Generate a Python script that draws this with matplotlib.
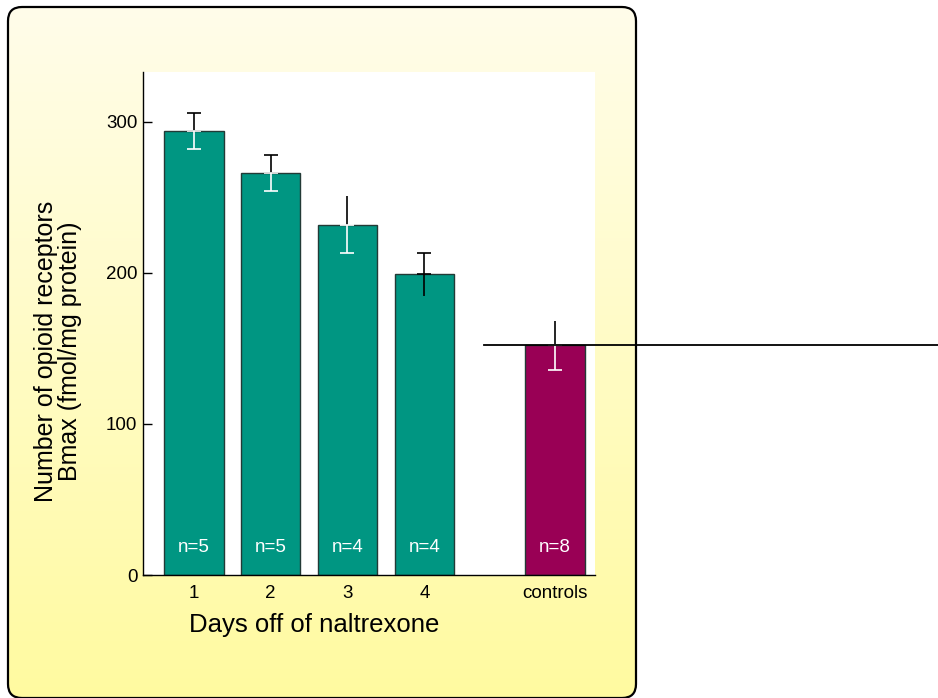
import numpy as np
import matplotlib
matplotlib.use("Agg")
import matplotlib.pyplot as plt
from matplotlib.patches import FancyBboxPatch
from matplotlib.lines import Line2D
from matplotlib.transforms import blended_transform_factory

plt.rcParams['font.family'] = ['Liberation Sans', 'DejaVu Sans']

# receptor density per group (mean and SEM, fmol/mg protein)
groups = ['1', '2', '3', '4', 'controls']
positions = [0, 1, 2, 3, 4.7]
bmax = [294, 266, 232, 199, 152]
sem = [12, 12, 19, 14, 16]
n_labels = ['n=5', 'n=5', 'n=4', 'n=4', 'n=8']
bar_colors = ['#009682', '#009682', '#009682', '#009682', '#990055']
# which error-bar ends carry a cap, and the colour of the part inside the bar
top_caps = [True, True, False, True, False]
low_caps = [True, True, True, False, True]
low_colors = ['white', 'white', 'white', 'black', 'white']

W, H = 938, 698
fig = plt.figure(figsize=(W / 100, H / 100), dpi=100)
fig.patch.set_facecolor('white')

# rounded yellow panel behind the chart
bg = fig.add_axes([0, 0, 1, 1], zorder=0)
bg.set_xlim(0, W)
bg.set_ylim(H, 0)
bg.axis('off')
panel = FancyBboxPatch((8, 7), 628, 691, boxstyle='round,pad=0,rounding_size=14',
                       facecolor='none', edgecolor='black', linewidth=1.6, zorder=3)
top = np.array([255, 253, 234]) / 255
bottom = np.array([255, 250, 160]) / 255
t = np.linspace(0, 1, 256)[:, None, None]
grad = top * (1 - t) + bottom * t
grad = np.repeat(grad, 4, axis=1)
im = bg.imshow(grad, extent=(8, 636, 698, 7), aspect='auto', zorder=1)
bg.add_patch(panel)
im.set_clip_path(panel)

ax = fig.add_axes([143 / W, 1 - 575 / H, 452 / W, 503 / H], zorder=2)
ax.set_facecolor('white')
ax.set_xlim(-0.66, 5.22)
ax.set_ylim(0, 333)

ax.bar(positions, bmax, width=0.775, color=bar_colors, edgecolor='#233a36',
       linewidth=1.0, zorder=2)

for x, m, e, tc, lc, lcol in zip(positions, bmax, sem, top_caps, low_caps, low_colors):
    ax.errorbar(x, m, yerr=[[0], [e]], fmt='none', ecolor='black',
                elinewidth=1.2, capsize=4.7 if tc else 0, capthick=1.2, zorder=3)
    ax.errorbar(x, m, yerr=[[e], [0]], fmt='none', ecolor=lcol,
                elinewidth=1.2, capsize=4.7 if lc else 0, capthick=1.2, zorder=3)

for x, lab in zip(positions, n_labels):
    ax.annotate(lab, xy=(x, 0), xytext=(0, 19.5), textcoords='offset points',
                ha='center', va='center', color='white', fontsize=13.5, zorder=4)

for side in ['top', 'right']:
    ax.spines[side].set_visible(False)
for side in ['left', 'bottom']:
    ax.spines[side].set_linewidth(1.0)

ax.set_yticks([0, 100, 200, 300])
ax.tick_params(axis='y', direction='in', length=6.5, width=1.0, pad=4, labelsize=13.5)
ax.set_xticks(positions)
ax.set_xticklabels(groups)
ax.tick_params(axis='x', length=0, pad=7, labelsize=13.5)

ax.set_xlabel('Days off of naltrexone', fontsize=18.5)
ax.xaxis.set_label_coords(0.379, -0.075)
ax.set_ylabel('Number of opioid receptors\nBmax (fmol/mg protein)', fontsize=18,
              va='center', linespacing=1.05)
ax.yaxis.set_label_coords(-0.188, 0.445)

# pointer line at the control level running off to the right
tr = blended_transform_factory(fig.transFigure, ax.transData)
fig.add_artist(Line2D([484 / W, 1.0], [bmax[-1], bmax[-1]], transform=tr,
                      color='black', linewidth=1.3, zorder=5))

fig.savefig('out.png', dpi=100)
